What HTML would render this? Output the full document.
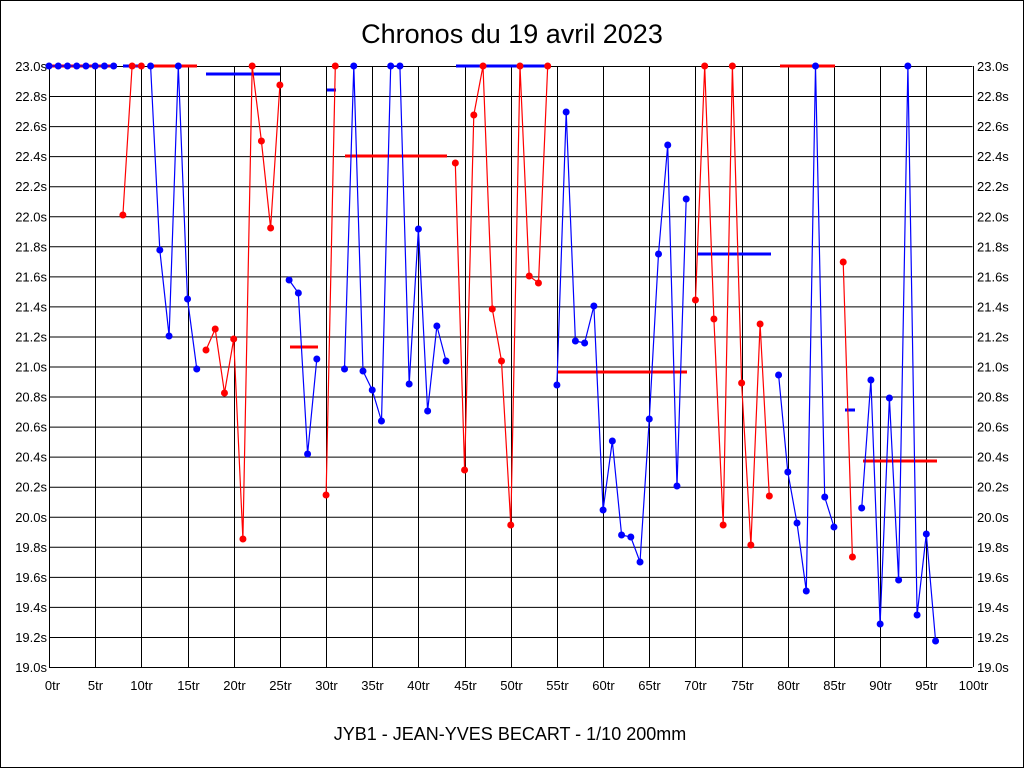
<!DOCTYPE html>
<html><head><meta charset="utf-8"><style>
html,body{margin:0;padding:0;background:#fff}
svg{display:block}
text{font-family:"Liberation Sans",sans-serif}
</style></head><body>
<svg id="s" width="1024" height="768" xmlns="http://www.w3.org/2000/svg">
<rect x="0.5" y="0.5" width="1023" height="767" fill="#fff" stroke="#000"/>
<text x="512" y="43" font-size="27" text-anchor="middle">Chronos du 19 avril 2023</text>
<text x="510" y="740" font-size="18" text-anchor="middle">JYB1 - JEAN-YVES BECART - 1/10 200mm</text>
<g id="g"></g>
</svg>
<script>
var NS="http://www.w3.org/2000/svg",g=document.getElementById("g");
function el(t,a,txt){var e=document.createElementNS(NS,t);for(var k in a)e.setAttribute(k,a[k]);if(txt)e.textContent=txt;g.appendChild(e);return e;}
var X0=49,X1=972.5,Y0=66,Y1=667;
function xp(i){return X0+(X1-X0)*i/100;}
for(var k=0;k<=20;k++){var y=Y0+(Y1-Y0)*k/20,v=(23-k*0.2).toFixed(1)+"s";
el("line",{x1:X0,x2:X1,y1:y+0.5,y2:y+0.5,stroke:"#000","stroke-width":1});
el("text",{x:47,y:y+5,"font-size":13,"text-anchor":"end"},v);
el("text",{x:977,y:y+5,"font-size":13},v);}
for(var k=0;k<=20;k++){var x=Math.round(xp(k*5))+0.5;
el("line",{x1:x,x2:x,y1:Y0,y2:Y1,stroke:"#000","stroke-width":1});
el("text",{x:x+(k==0?3:0),y:690,"font-size":13,"text-anchor":"middle"},(k*5)+"tr");}
var Y=[66,66,66,66,66,66,66,66,215,66,66,66,250,336,66,299,369,350,329,393,339,539,66,141,228,85,280,293,454,359,495,66,369,66,371,390,421,66,66,384,229,411,326,361,163,470,115,66,309,361,525,66,276,283,66,385,112,341,343,306,510,441,535,537,562,419,254,145,486,199,300,66,319,525,66,383,545,324,496,375,472,523,591,66,497,527,262,557,508,380,624,398,580,66,615,534,641];
var runs=[[0,7,"b"],[8,10,"r"],[11,16,"b"],[17,25,"r"],[26,29,"b"],[30,31,"r"],[32,43,"b"],[44,54,"r"],[55,69,"b"],[70,78,"r"],[79,85,"b"],[86,87,"r"],[88,96,"b"]];
var C={b:"#0000ff",r:"#ff0000"};
var H=[[49,117,66,"r"],[123,141,66,"b"],[152,197,66,"r"],[206,280,74,"b"],[290,318,347,"r"],[327,336,90,"b"],[345,447,156,"r"],[456,548,66,"b"],[558,687,372,"r"],[697,771,254,"b"],[780,835,66,"r"],[845,855,410,"b"],[863,937,461,"r"]];
H.forEach(function(h){el("line",{x1:h[0],x2:h[1],y1:h[2],y2:h[2],stroke:C[h[3]],"stroke-width":3});});
runs.forEach(function(r){var p=[];for(var i=r[0];i<=r[1];i++)p.push(xp(i).toFixed(1)+","+Y[i]);
el("polyline",{points:p.join(" "),fill:"none",stroke:C[r[2]],"stroke-width":1.2});
for(var i=r[0];i<=r[1];i++)el("circle",{cx:xp(i),cy:Y[i],r:3.5,fill:C[r[2]]});});
</script>
</body></html>
